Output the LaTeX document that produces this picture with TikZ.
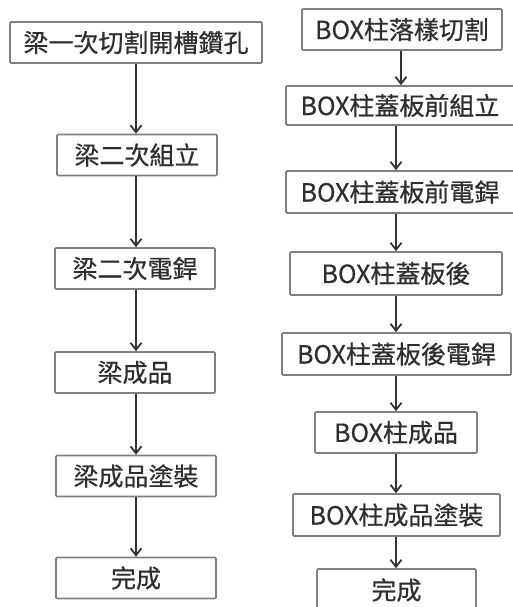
\documentclass[tikz,border=0pt]{standalone}
\usepackage{fontspec}
\setmainfont[FakeBold=0.5,BoldFont={Noto Sans CJK TC}]{Noto Sans CJK TC}
\usetikzlibrary{arrows.meta}
\definecolor{boxline}{HTML}{808080}
\definecolor{txt}{HTML}{2E2E2E}
\definecolor{arr}{HTML}{333333}
\begin{document}
\begin{tikzpicture}[x=1pt,y=-1pt,
  stepbox/.style={draw=boxline,line width=1.6pt,fill=white,text=txt,
    font=\fontsize{25}{29}\selectfont,inner sep=0pt,minimum height=41pt,rounded corners=1pt},
  flow/.style={draw=arr,line width=2pt,-{Straight Barb[length=7pt,width=11pt,line width=1.8pt]}}]
\useasboundingbox (0,0) rectangle (513,607);
\clip (0,0) rectangle (513,607);
% left column
\node[stepbox,minimum width=252pt] (L1) at (136,42.5) {梁一次切割開槽鑽孔};
\node[stepbox,minimum width=160pt] (L2) at (137,155) {梁二次組立};
\node[stepbox,minimum width=160pt] (L3) at (135,268.5) {梁二次電銲};
\node[stepbox,minimum width=160pt] (L4) at (135,372.5) {梁成品};
\node[stepbox,minimum width=160pt] (L5) at (136,476) {梁成品塗裝};
\node[stepbox,minimum width=160pt] (L6) at (136,578) {完成};
% right column
\node[stepbox,minimum width=200pt] (R1) at (402,29.5) {BOX柱落樣切割};
\node[stepbox,minimum width=228pt,minimum height=39pt] (R2) at (400,105.5) {BOX柱蓋板前組立};
\node[stepbox,minimum width=228pt,minimum height=42pt] (R3) at (400,192) {BOX柱蓋板前電銲};
\node[stepbox,minimum width=212pt,minimum height=43pt] (R4) at (396,273.5) {BOX柱蓋板後};
\node[stepbox,minimum width=229pt,minimum height=42pt] (R5) at (396.5,354) {BOX柱蓋板後電銲};
\node[stepbox,minimum width=162pt] (R6) at (396,432.5) {BOX柱成品};
\node[stepbox,minimum width=207pt,minimum height=42pt] (R7) at (396.5,515) {BOX柱成品塗裝};
\node[stepbox,minimum width=159pt,minimum height=42pt] (R8) at (396.5,590) {完成};
% connectors
\draw[flow] (L1.south -| 136,0) -- (L2.north -| 136,0);
\draw[flow] (L2.south -| 136,0) -- (L3.north -| 136,0);
\draw[flow] (L3.south -| 136,0) -- (L4.north -| 136,0);
\draw[flow] (L4.south -| 136,0) -- (L5.north -| 136,0);
\draw[flow] (L5.south -| 136,0) -- (L6.north -| 136,0);
\draw[flow] (R1.south -| 401,0) -- (R2.north -| 401,0);
\draw[flow] (R2.south -| 396,0) -- (R3.north -| 396,0);
\draw[flow] (R3.south -| 396,0) -- (R4.north -| 396,0);
\draw[flow] (R4.south -| 396,0) -- (R5.north -| 396,0);
\draw[flow] (R5.south -| 396,0) -- (R6.north -| 396,0);
\draw[flow] (R6.south -| 396,0) -- (R7.north -| 396,0);
\draw[flow] (R7.south -| 396,0) -- (R8.north -| 396,0);
\end{tikzpicture}
\end{document}
